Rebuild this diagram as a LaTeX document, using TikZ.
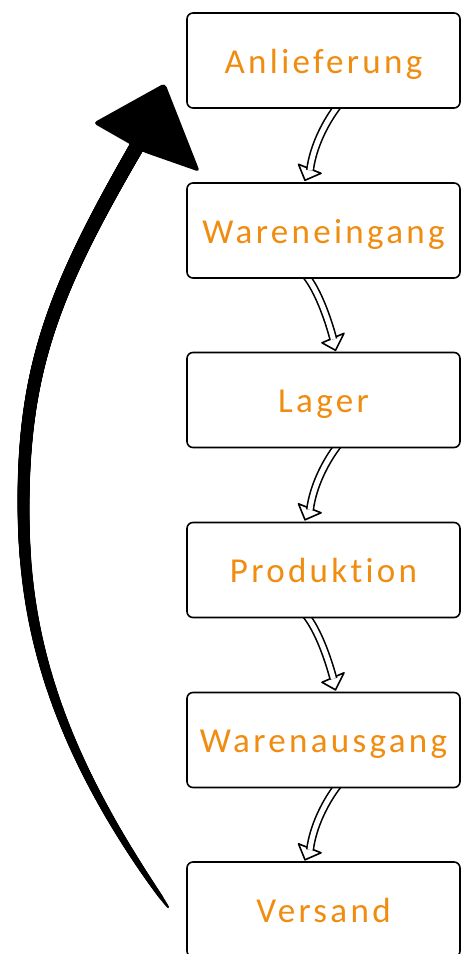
\documentclass[tikz,border=0pt]{standalone}
\usepackage{fontspec}
\setmainfont{Carlito}[LetterSpace=9.5, Ligatures={NoCommon}]
\usetikzlibrary{calc,decorations.markings}
\definecolor{txtorange}{RGB}{240,140,15}
\tikzset{
  stepbox/.style={draw=black, fill=white, line width=1.6pt, rounded corners=6pt,
    minimum width=273pt, minimum height=95pt, inner sep=0pt,
    text height=30pt, text depth=5pt, text=txtorange,
    font=\fontsize{35}{42}\selectfont},
  hollowshaft/.style={line width=1.6pt, double=white, double distance=5pt},
  hollowhead/.style={draw=black, line width=1.6pt, fill=white, line join=round},
  brushstroke/.style={decorate, decoration={markings,
    mark=between positions 0 and 1 step 0.8pt with {%
      \pgfmathsetmacro\brushr{0.8+6.7*((\pgfkeysvalueof{/pgf/decoration/mark info/distance from start})/\pgfdecoratedpathlength+0.0005)^0.4}%
      \fill[black] (0,0) circle[radius=\brushr pt];}}},
}
\newcommand\arrA[1]{%
  \draw[hollowhead] ($(#1.south)+(-25,55.5)$) -- ($(#1.south)+(-18.5,71.5)$) -- ($(#1.south)+(-2.5,64.5)$) -- cycle;
  \draw[hollowshaft] ($(#1.south)+(14.5,-3)$) .. controls ($(#1.south)+(1.5,14)$) and ($(#1.south)+(-10.5,38)$) .. ($(#1.south)+(-13.5,61.5)$);
}
\newcommand\arrB[1]{%
  \draw[hollowhead] ($(#1.south)+(-1.5,64)$) -- ($(#1.south)+(12,71.5)$) -- ($(#1.south)+(20.5,54.5)$) -- cycle;
  \draw[hollowshaft] ($(#1.south)+(-17.5,-3)$) .. controls ($(#1.south)+(-5.5,12)$) and ($(#1.south)+(4.5,40)$) .. ($(#1.south)+(9.9,60.5)$);
}
\begin{document}
\begin{tikzpicture}[x=1pt,y=-1pt]
\fill[white] (0,0) rectangle (461,954);
\useasboundingbox (0,0) rectangle (461,954);
% invisible placeholders to get anchors before drawing arrows
\path (323.5,60.5) node[stepbox, draw=none, fill=none, opacity=0] (p1) {};
\path (323.5,230.5) node[stepbox, draw=none, fill=none, opacity=0] (p2) {};
\path (323.5,400) node[stepbox, draw=none, fill=none, opacity=0] (p3) {};
\path (323.5,570) node[stepbox, draw=none, fill=none, opacity=0] (p4) {};
\path (323.5,740) node[stepbox, draw=none, fill=none, opacity=0] (p5) {};
% small hollow arrows
\arrA{p1}
\arrB{p2}
\arrA{p3}
\arrB{p4}
\arrA{p5}
% boxes
\node[stepbox] (b1) at (323.5,60.5) {Anlieferung};
\node[stepbox] (b2) at (323.5,230.5) {Wareneingang};
\node[stepbox] (b3) at (323.5,400) {Lager};
\node[stepbox] (b4) at (323.5,570) {Produktion};
\node[stepbox] (b5) at (323.5,740) {Warenausgang};
\node[stepbox] (b6) at (323.5,909.5) {Versand};
% big return arrow: tapered shaft drawn as a brush stroke
\coordinate (tail) at (168,907);
\coordinate (leftmost) at (23.5,505);
\coordinate (neck) at (136,148);
\coordinate (neckin) at (147,129);
\path[brushstroke] (tail) .. controls (45.4,736.5) and (23.5,615) .. (leftmost)
  .. controls (23.5,365) and (56,286.6) .. (neck) -- (neckin);
\fill[rounded corners=4pt] (93,123) -- (165,83) -- (200,172) -- (143,152) -- (128,143) -- cycle;
\end{tikzpicture}
\end{document}
